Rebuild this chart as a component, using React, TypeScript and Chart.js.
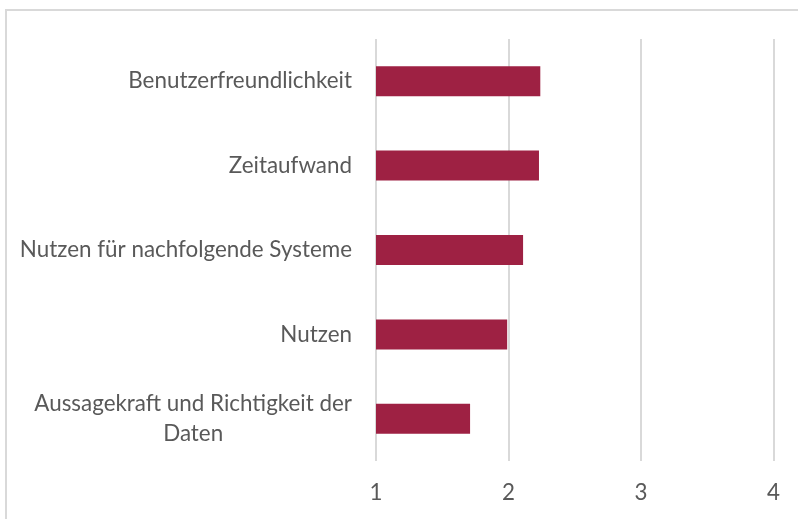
import React, { useEffect, useRef } from "react";
import { Chart, registerables } from "chart.js";

Chart.register(...registerables);

const categories: (string | string[])[] = [
  "Benutzerfreundlichkeit",
  "Zeitaufwand",
  "Nutzen für nachfolgende Systeme",
  "Nutzen",
  ["Aussagekraft und Richtigkeit der", "Daten"],
];
const values = [2.24, 2.23, 2.11, 1.99, 1.71];
const xTicks = [1, 2, 3, 4];

const FONT = "Lato";
const FONT_SIZE = 22.4;
const TEXT_COLOR = "#595959";
const GRID_COLOR = "#d9d9d9";
const BAR_COLOR = "#9e2143";

const yLabelPlugin = {
  id: "yLabelPlugin",
  afterDraw(chart: any) {
    const ctx = chart.ctx;
    const yScale = chart.scales.y;
    const rightX = yScale.right - 24;
    const lineH = 29.5;
    ctx.save();
    ctx.font = `${FONT_SIZE}px ${FONT}`;
    ctx.fillStyle = TEXT_COLOR;
    ctx.textBaseline = "middle";
    ctx.textAlign = "center";
    categories.forEach((lab, i) => {
      const lines = Array.isArray(lab) ? lab : [lab];
      const widths = lines.map((l) => ctx.measureText(l).width);
      const maxW = Math.max(...widths);
      const cx = rightX - maxW / 2;
      const cy = yScale.getPixelForValue(i);
      const startY = cy - ((lines.length - 1) * lineH) / 2;
      lines.forEach((l, j) => ctx.fillText(l, cx, startY + j * lineH));
    });
    ctx.restore();
  },
};

export default function App() {
  const ref = useRef<HTMLCanvasElement>(null);
  useEffect(() => {
    if (!ref.current) return;
    const chart = new Chart(ref.current, {
      type: "bar",
      data: {
        labels: categories as any,
        datasets: [
          {
            data: values,
            backgroundColor: BAR_COLOR,
            barPercentage: 0.355,
            categoryPercentage: 1,
          },
        ],
      },
      options: {
        indexAxis: "y",
        animation: false,
        responsive: false,
        layout: { padding: { top: 39, right: 22, left: 0, bottom: 0 } },
        plugins: { legend: { display: false }, tooltip: { enabled: false } },
        scales: {
          x: {
            min: 1,
            max: 4,
            afterBuildTicks: (axis: any) => {
              axis.ticks = xTicks.map((v) => ({ value: v }));
            },
            afterFit: (axis: any) => {
              axis.height = 58;
            },
            grid: { color: GRID_COLOR, lineWidth: 2, drawTicks: false },
            border: { display: false },
            ticks: {
              color: TEXT_COLOR,
              font: { family: FONT, size: FONT_SIZE },
              padding: 18,
            },
          },
          y: {
            afterFit: (axis: any) => {
              axis.width = 376;
            },
            grid: { display: false, drawTicks: false },
            border: { display: false },
            ticks: { display: false },
          },
        },
      },
      plugins: [yLabelPlugin],
    });
    return () => chart.destroy();
  }, []);
  return (
    <div style={{ position: "absolute", left: 0, top: 0, width: 798, height: 519, background: "#fff", overflow: "hidden" }}>
      <div
        style={{
          position: "absolute",
          left: 5,
          top: 9,
          width: 820,
          height: 540,
          border: "2px solid #d9d9d9",
          boxSizing: "border-box",
        }}
      />
      <canvas ref={ref} width={798} height={519} style={{ position: "absolute", left: 0, top: 0 }} />
    </div>
  );
}
